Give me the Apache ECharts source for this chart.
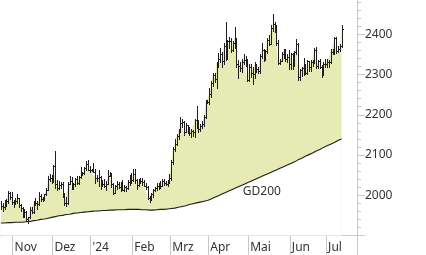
<!DOCTYPE html>
<html><head><meta charset="utf-8">
<script src="https://cdn.jsdelivr.net/npm/echarts@6/dist/echarts.min.js"></script>
<style>html,body{margin:0;padding:0;background:#fff}#c{width:426px;height:255px}</style>
</head><body><div id="c"></div>
<script>
// Trading days (weekdays) from 2023-10-23; 189 with data + empty days at the right
const startDate = '2023-10-23';
const totalDays = 197;
const monthLabels = {'11':'Nov','12':'Dez','01':"'24",'02':'Feb','03':'Mrz','04':'Apr','05':'Mai','06':'Jun','07':'Jul'};
const yTicks = [2000, 2100, 2200, 2300, 2400];
const yMajorTicks = [1900, 2000, 2100, 2200, 2300, 2400];
const yMinorStep = 20;
const yMin = 1900, yMax = 2485.3;
const maLabel = 'GD200';
const maLabelIndex = 144;

const close = [
1973,1971,1979,1985,2006,1996,1983,
1982,1985,1992,1977,1969,1950,1958,1940,1946,1963,1959,1981,1980,1978,1998,1990,1992,2002,2014,2041,2044,2036,
2072,2029,2019,2025,2028,2004,1982,1980,2027,2035,2019,2027,2040,2031,2046,2053,2055,2067,2077,2064,2063,
2063,2059,2042,2043,2045,2027,2029,2024,2029,2049,2055,2029,2006,2023,2029,2021,2029,2014,2020,2018,2033,2037,2039,
2054,2039,2025,2035,2035,2034,2024,2020,1992,1992,2004,2013,2018,2024,2025,2024,2036,2031,2029,2034,2044,
2083,2114,2128,2148,2160,2179,2182,2158,2175,2162,2155,2160,2157,2186,2181,2165,2172,2178,2194,2233,2233,
2251,2280,2300,2290,2330,2339,2352,2333,2372,2344,2383,2383,2361,2379,2392,2327,2322,2316,2332,2337,2335,2286,
2320,2303,2301,2323,2314,2309,2346,2360,2336,2358,2386,2377,2415,2425,2420,2379,2329,2334,2350,2361,2338,2343,2327,
2350,2327,2355,2375,2294,2311,2316,2324,2303,2333,2319,2330,2328,2361,2322,2334,2320,2298,2327,2327,
2332,2330,2356,2356,2391,2358,2364,2371,2414
];
const high = [
1986,1980,1988,1990,2010,2009,2008,
1987,1993,2004,1994,1978,1972,1965,1962,1947,1970,1971,1985,1993,1985,2007,2003,1995,2004,2018,2048,2052,2051,
2076,2110,2038,2036,2034,2034,2006,1996,2033,2047,2046,2030,2044,2047,2048,2071,2058,2070,2084,2088,2073,
2065,2079,2065,2051,2064,2047,2038,2041,2035,2062,2058,2056,2031,2026,2035,2032,2032,2037,2025,2024,2038,2050,2055,
2065,2066,2040,2040,2043,2042,2037,2030,2023,1997,2006,2016,2021,2031,2030,2035,2041,2040,2036,2037,2052,
2088,2119,2141,2152,2165,2195,2189,2185,2180,2175,2170,2164,2163,2190,2222,2186,2176,2185,2199,2236,2236,
2266,2285,2305,2305,2331,2354,2365,2355,2378,2431,2385,2393,2392,2384,2417,2390,2335,2332,2338,2352,2347,2338,
2326,2326,2319,2331,2327,2319,2351,2378,2364,2361,2392,2398,2422,2450,2430,2423,2385,2339,2357,2364,2364,2351,2360,
2354,2354,2359,2388,2378,2314,2320,2342,2327,2335,2334,2335,2336,2365,2368,2337,2338,2323,2330,2339,
2338,2335,2364,2363,2393,2393,2372,2375,2424
];
const low = [
1965,1962,1966,1973,1982,1991,1979,
1970,1978,1981,1970,1960,1947,1946,1937,1931,1943,1955,1956,1976,1965,1975,1986,1986,1989,2001,2012,2036,2031,
2034,2018,2012,2016,2018,1995,1976,1974,1978,2027,2016,2015,2024,2028,2028,2044,2050,2052,2064,2062,2058,
2060,2057,2031,2035,2024,2016,2022,2021,2013,2028,2047,2021,2002,2005,2016,2017,2010,2012,2010,2011,2016,2026,2030,
2035,2031,2015,2022,2030,2025,2022,2016,1990,1984,1989,1995,2010,2012,2016,2019,2022,2025,2026,2024,2030,
2039,2077,2109,2126,2140,2157,2170,2150,2156,2154,2150,2146,2147,2146,2167,2157,2160,2168,2171,2191,2230,
2228,2243,2272,2281,2266,2318,2332,2319,2325,2335,2339,2366,2355,2358,2367,2320,2291,2310,2306,2325,2322,2285,
2285,2295,2277,2292,2306,2303,2303,2340,2333,2336,2354,2373,2376,2408,2405,2374,2325,2326,2333,2340,2334,2332,2314,
2314,2315,2321,2350,2287,2286,2297,2299,2301,2302,2310,2308,2322,2328,2317,2317,2317,2293,2298,2319,
2319,2318,2329,2352,2352,2353,2355,2358,2368
];
const gd200 = [
1931,1931,1931,1932,1932,1932,1932,1932,1933,1933,1933,1933,1933,1934,1934,
1935,1935,1936,1937,1937,1938,1939,1940,1941,1941,1942,1943,1944,1945,1946,
1947,1948,1949,1949,1950,1951,1952,1953,1953,1954,1955,1955,1956,1957,1957,
1958,1958,1959,1959,1960,1960,1960,1961,1961,1961,1962,1962,1962,1962,1963,1963,1963,1963,1963,
1964,1964,1964,1964,1964,1965,1965,1965,1965,1965,1965,1965,1965,1964,1964,1964,1964,
1963,1963,1963,1963,1964,1964,1964,1965,1965,1965,1966,1966,1966,
1967,1968,1968,1969,1970,1971,1972,1973,1974,1975,1977,1978,1979,1980,1981,1982,1983,1984,1985,1986,1987,
1989,1991,1993,1995,1997,1999,2001,2003,2005,2007,2009,2011,2013,2015,2017,2019,2021,2023,2025,2027,2029,2031,
2033,2035,2037,2039,2041,2043,2045,2047,2049,2051,2053,2055,2057,2059,2061,2063,2065,2067,2069,2071,2073,2075,2077,
2079,2081,2083,2086,2088,2090,2092,2094,2097,2099,2101,2103,2105,2108,2110,2112,2114,2116,2119,2121,
2123,2125,2127,2129,2131,2134,2136,2138,2140
];

// calendar categories (weekdays)
const categories = [];
(function(){
  const d = new Date(startDate + 'T00:00:00Z');
  while (categories.length < totalDays) {
    const wd = d.getUTCDay();
    if (wd >= 1 && wd <= 5) categories.push(d.toISOString().slice(0,10));
    d.setUTCDate(d.getUTCDate() + 1);
  }
})();
function isMonthStart(i){ return i > 0 && categories[i].slice(5,7) !== categories[i-1].slice(5,7); }

const yMinorTicks = [];
for (let v = yMin; v <= yMax; v += yMinorStep) if (yMajorTicks.indexOf(v) < 0) yMinorTicks.push(v);

const FONT = 'Noto Sans';
const AX = '#c8c8c8';
const TXT = '#333';

const ohlcData = close.map((c,i) => [i, high[i], low[i], c]);

const chart = echarts.init(document.getElementById('c'), null, {renderer:'canvas'});
chart.setOption({
  animation: false,
  backgroundColor: '#fff',
  grid: {left: -1, right: 69, top: 0, bottom: 19.5, containLabel: false},
  xAxis: {
    type: 'category', data: categories, boundaryGap: true,
    axisLine: {show: true, lineStyle: {color: AX, width: 1}},
    axisTick: {show: true, length: 20, interval: (i) => isMonthStart(i), lineStyle: {color: AX}},
    axisLabel: {
      interval: (i) => isMonthStart(i), align: 'left', margin: 6, padding: [0,0,0,1],
      color: TXT, fontFamily: FONT, fontSize: 12,
      formatter: (v) => monthLabels[v.slice(5,7)] || ''
    },
    splitLine: {show: false}
  },
  yAxis: [{
    type: 'value', position: 'right', min: yMin, max: yMax,
    axisLine: {show: true, lineStyle: {color: AX, width: 1}},
    axisTick: {show: true, length: 8, customValues: yMajorTicks, lineStyle: {color: AX}},
    axisLabel: {
      margin: 8, color: TXT, fontFamily: FONT, fontSize: 12, customValues: yTicks,
      formatter: (v) => String(v)
    },
    splitLine: {show: false}
  }, {
    type: 'value', position: 'right', min: yMin, max: yMax,
    axisLine: {show: false},
    axisTick: {show: true, length: 4, customValues: yMinorTicks, lineStyle: {color: AX}},
    axisLabel: {show: false},
    splitLine: {show: false}
  }],
  series: [
    {
      name: 'fill', type: 'line', data: close, symbol: 'none', silent: true,
      lineStyle: {width: 0, opacity: 0},
      areaStyle: {color: '#e6eab4', opacity: 1, origin: 'start'},
      z: 1
    },
    {
      name: 'GD200', type: 'line', data: gd200, symbol: 'none', silent: true,
      lineStyle: {color: '#1e1e1e', width: 1.1},
      areaStyle: {color: '#ffffff', opacity: 1, origin: 'start'},
      markPoint: {
        symbol: 'circle', symbolSize: 0, silent: true,
        data: [{coord: [maLabelIndex, gd200[maLabelIndex]], value: maLabel}],
        label: {show: true, position: 'bottom', distance: 9, formatter: maLabel,
                color: TXT, fontFamily: FONT, fontSize: 12}
      },
      z: 2
    },
    {
      name: 'price', type: 'custom', data: ohlcData, silent: true,
      encode: {x: 0, y: [1,2,3]},
      renderItem: function(params, api){
        const i = api.value(0);
        const ph = api.coord([i, api.value(1)]);
        const pl = api.coord([i, api.value(2)]);
        const pc = api.coord([i, api.value(3)]);
        const x = Math.round(ph[0]) + 0.5;
        const style = {stroke: '#1e1e1e', lineWidth: 1};
        return {type: 'group', children: [
          {type: 'line', shape: {x1: x, y1: Math.round(ph[1]), x2: x, y2: Math.round(pl[1]) + 1}, style: style},
          {type: 'line', shape: {x1: x, y1: Math.round(pc[1]) + 0.5, x2: x + 1.5, y2: Math.round(pc[1]) + 0.5}, style: style}
        ]};
      },
      z: 3
    }
  ]
});
</script>
</body></html>
